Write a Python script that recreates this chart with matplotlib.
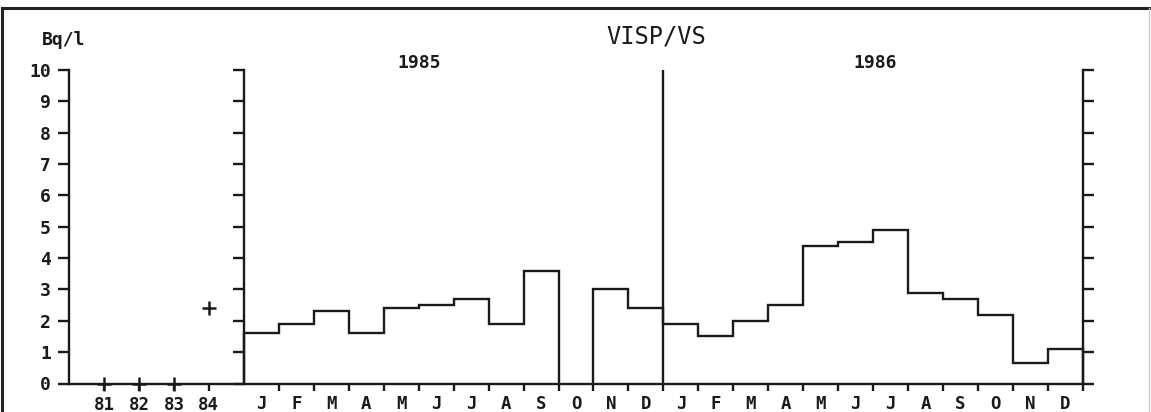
import numpy as np
import matplotlib
matplotlib.use('Agg')
import matplotlib.pyplot as plt
from matplotlib.lines import Line2D

# Data (Bq/l)
years = ['81', '82', '83', '84']
year_values = [0, 0, 0, 2.4]
months = ['J', 'F', 'M', 'A', 'M', 'J', 'J', 'A', 'S', 'O', 'N', 'D']
v1985 = [1.6, 1.9, 2.3, 1.6, 2.4, 2.5, 2.7, 1.9, 3.6, np.nan, 3.0, 2.4]
v1986 = [1.9, 1.5, 2.0, 2.5, 4.4, 4.5, 4.9, 2.9, 2.7, 2.2, 0.65, 1.1]

FONT = 'DejaVu Sans Mono'
LW = 1.7
INK = '#1a1a1a'
FS = 12.5

fig = plt.figure(figsize=(11.51, 4.12), dpi=100)
ax = fig.add_axes([69 / 1151, 28.5 / 412, 1014 / 1151, 313.5 / 412])

# x layout: 0..5 yearly slots, 5..17 months 1985, 17..29 months 1986
n_years = len(years) + 1
year_x = np.arange(1, len(years) + 1)
edges85 = n_years + np.arange(13)
edges86 = edges85[-1] + np.arange(13)

# step lines (October 1985 missing)
vals = np.array(v1985 + v1986)
edges = np.concatenate([edges85, edges86[1:]])
gap = np.where(np.isnan(vals))[0]
start = 0
for g in list(gap) + [len(vals)]:
    if g > start:
        ax.stairs(vals[start:g], edges[start:g + 1], baseline=0,
                  color=INK, lw=LW, clip_on=False)
    start = g + 1

# yearly points
ax.plot(year_x, year_values, '+', color=INK, ms=10, mew=1.8, clip_on=False)

ax.set_xlim(0, edges[-1])
ax.set_ylim(0, 10)

ax.spines['top'].set_visible(False)
for s in ['left', 'right', 'bottom']:
    ax.spines[s].set_linewidth(LW)
    ax.spines[s].set_color(INK)

ax.set_yticks(range(11))
ax.set_yticklabels([str(i) for i in range(11)], fontfamily=FONT,
                   fontweight='bold', fontsize=13)
ax.tick_params(axis='y', which='major', direction='out', length=8, width=LW,
               pad=5, right=True, color=INK, labelcolor=INK)

# second y axis at start of 1985, ticks to the left
sec = ax.secondary_yaxis(edges85[0] / edges[-1])
sec.set_yticks(range(11))
sec.tick_params(axis='y', direction='out', length=8, width=LW, labelleft=False,
                color=INK)
sec.spines['left'].set_linewidth(LW)
sec.spines['left'].set_color(INK)

# divider between years
ax.plot([edges86[0], edges86[0]], [0, 10], color=INK, lw=LW)

# x ticks: years with marks, months labelled in the middle
major_pos = list(year_x) + list(edges85[1:]) + list(edges86[1:])
major_lab = years + [''] * (len(major_pos) - len(years))
ax.set_xticks(major_pos)
ax.set_xticklabels(major_lab, fontfamily=FONT, fontweight='bold', fontsize=FS)
centers = list((edges85[:-1] + edges85[1:]) / 2) + list((edges86[:-1] + edges86[1:]) / 2)
ax.set_xticks(centers, minor=True)
ax.set_xticklabels(months + months, minor=True, fontfamily=FONT,
                   fontweight='bold', fontsize=FS)
ax.tick_params(axis='x', which='major', direction='out', length=5, width=LW,
               pad=4, color=INK, labelcolor=INK)
ax.tick_params(axis='x', which='minor', length=0, pad=8, labelcolor=INK)

# texts
ax.text(16.8, 11.08, 'VISP/VS', ha='center', va='center', fontsize=17,
        fontfamily=FONT, color=INK)
ax.text(10.0, 10.22, '1985', ha='center', va='center', fontsize=13,
        fontfamily=FONT, fontweight='bold', color=INK)
ax.text(23.05, 10.22, '1986', ha='center', va='center', fontsize=13,
        fontfamily=FONT, fontweight='bold', color=INK)
ax.text(-0.78, 10.96, 'Bq/l', ha='left', va='center', fontsize=13,
        fontfamily=FONT, fontweight='bold', color=INK)

# outer frame
fig.add_artist(Line2D([2 / 1151, 2 / 1151], [0, 1 - 8 / 412], color='#222222', lw=2.2))
fig.add_artist(Line2D([2 / 1151, 1149 / 1151], [1 - 8 / 412, 1 - 8 / 412],
                      color='#222222', lw=2.2))
fig.add_artist(Line2D([1149 / 1151, 1149 / 1151], [0, 1 - 8 / 412], color='#cccccc', lw=1))

fig.savefig('out.png', dpi=100)
